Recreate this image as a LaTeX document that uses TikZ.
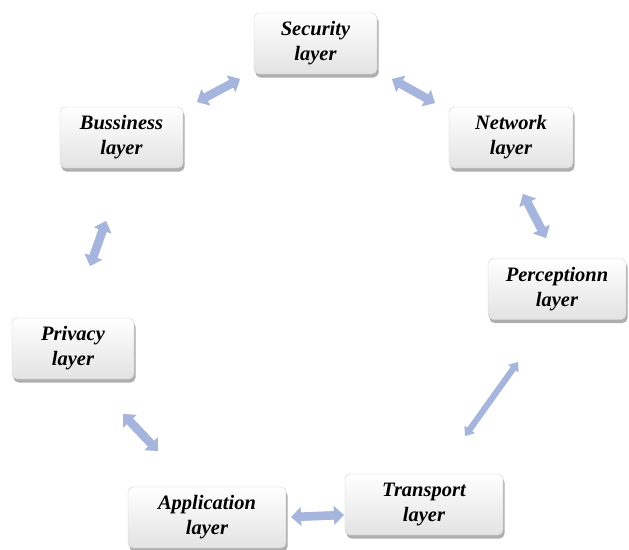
\documentclass[tikz,border=0pt]{standalone}
\usepackage{fontspec}
\setmainfont{Liberation Serif}
\usetikzlibrary{shadows,arrows.meta,shadings}
\definecolor{arrowblue}{RGB}{166,181,222}
\begin{document}
\begin{tikzpicture}[x=1pt,y=-1pt,
  layerbox/.style={rounded corners=5pt, draw=black!18, line width=0.4pt,
    top color=white, bottom color=black!11, minimum height=61pt,
    align=center, inner sep=0pt,
    font=\fontsize{20.5}{25}\selectfont\bfseries\itshape,
    drop shadow={shadow xshift=1.5pt, shadow yshift=-3.5pt, opacity=0.45, fill=black!70}},
  arrshadow/.style={line width=8.5pt, draw=black, opacity=0.16,
    {Triangle[width=18pt,length=10pt]}-{Triangle[width=18pt,length=10pt]}},
  arr/.style={line width=8.5pt, draw=arrowblue,
    {Triangle[width=18pt,length=10pt]}-{Triangle[width=18pt,length=10pt]}},
  thinarr/.style={line width=6pt, draw=arrowblue,
    {Triangle[width=12pt,length=8pt]}-{Triangle[width=12pt,length=8pt]}},
  thinshadow/.style={line width=6pt, draw=black, opacity=0.16,
    {Triangle[width=12pt,length=8pt]}-{Triangle[width=12pt,length=8pt]}}
]
\useasboundingbox (0,0) rectangle (629,549);
\node[layerbox, minimum width=123pt] (sec) at (315.5,43.5) {Security\\layer};
\node[layerbox, minimum width=123pt] (bus) at (121.5,137.5) {Bussiness\\layer};
\node[layerbox, minimum width=124pt] (net) at (511,137.5) {Network\\layer};
\node[layerbox, minimum width=138pt] (per) at (557,289) {Perceptionn\\layer};
\node[layerbox, minimum width=122pt] (pri) at (73,348.5) {Privacy\\layer};
\node[layerbox, minimum width=158pt] (app) at (207,517.5) {Application\\layer};
\node[layerbox, minimum width=158pt] (tra) at (424,504.5) {Transport\\layer};
% arrow end points
\coordinate (a1) at (240,79);  \coordinate (b1) at (197,102);
\coordinate (a2) at (392,79);  \coordinate (b2) at (435,103);
\coordinate (a3) at (106,221); \coordinate (b3) at (90,266);
\coordinate (a4) at (523,194); \coordinate (b4) at (546,238);
\coordinate (a5) at (518,362); \coordinate (b5) at (465,436);
\coordinate (a6) at (123,414); \coordinate (b6) at (158,451);
\coordinate (a7) at (291,517); \coordinate (b7) at (344,515);
\begin{scope}[shift={(2,4)}]
\foreach \i in {1,2,3,4,6,7} \draw[arrshadow] (a\i) -- (b\i);
\draw[thinshadow] (a5) -- (b5);
\end{scope}
\foreach \i in {1,2,3,4,6,7} \draw[arr] (a\i) -- (b\i);
\draw[thinarr] (a5) -- (b5);
\end{tikzpicture}
\end{document}
